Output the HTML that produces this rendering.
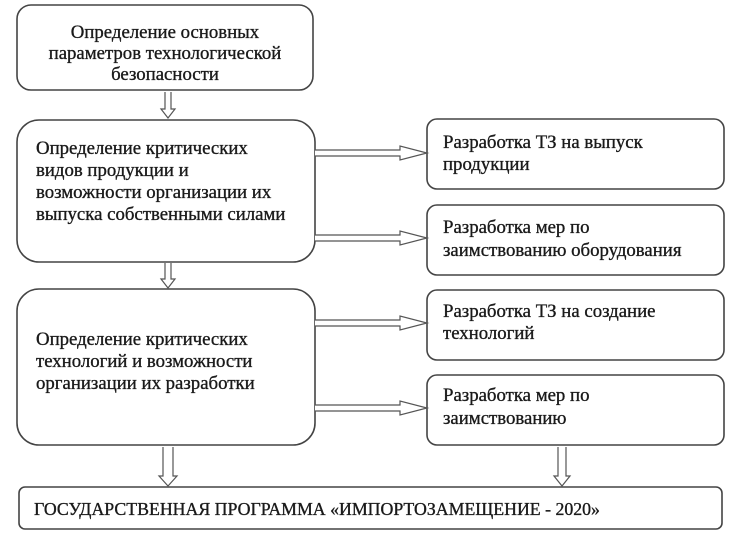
<!DOCTYPE html>
<html><head><meta charset="utf-8"><style>
html,body{margin:0;padding:0;background:#fff;}
svg text{font-family:"Liberation Serif","Noto Serif CJK SC",serif;font-size:18.8px;fill:#1a1a1a;stroke:#1a1a1a;stroke-width:0.35;}
</style></head><body>
<svg width="737" height="538" viewBox="0 0 737 538" xmlns="http://www.w3.org/2000/svg">
<g fill="#fff" stroke="#444" stroke-width="1.6">
<rect x="17" y="5" width="296" height="85" rx="14"/>
<rect x="17" y="120" width="298" height="142" rx="22"/>
<rect x="17" y="289" width="298" height="156" rx="22"/>
<rect x="427" y="119" width="297" height="70" rx="10"/>
<rect x="427" y="205" width="297" height="70" rx="10"/>
<rect x="427" y="290" width="297" height="70" rx="10"/>
<rect x="427" y="375" width="297" height="70" rx="10"/>
<rect x="19" y="487" width="703" height="42" rx="6"/>
</g>
<g fill="#fff" stroke="#555" stroke-width="1.2">
<path d="M165,92 V109 H161 L168,118 L175,109 H171 V92"/>
<path d="M165,263 V279 H161 L168,288 L175,279 H171 V263"/>
<path d="M163,447 V476 H159 L168,486 L177,476 H173 V447"/>
<path d="M558,447 V476 H554 L562,486 L570,476 H566 V447"/>
<path d="M315,150 H400 V146 L427,153 L400,160 V156 H315"/>
<path d="M315,235 H400 V231 L427,238 L400,245 V241 H315"/>
<path d="M315,320 H400 V316 L427,323 L400,330 V326 H315"/>
<path d="M315,405 H400 V401 L427,408 L400,415 V411 H315"/>
</g>
<g text-anchor="middle" style="font-size:18.3px">
<text x="165" y="38">Определение основных</text>
<text x="165" y="59">параметров технологической</text>
<text x="165" y="80">безопасности</text>
</g>
<text x="36" y="154">Определение критических</text>
<text x="36" y="176">видов продукции и</text>
<text x="36" y="198">возможности организации их</text>
<text x="36" y="220">выпуска собственными силами</text>
<text x="36" y="345">Определение критических</text>
<text x="36" y="367">технологий и возможности</text>
<text x="36" y="389">организации их разработки</text>
<text x="443" y="148">Разработка ТЗ на выпуск</text>
<text x="443" y="170">продукции</text>
<text x="443" y="233">Разработка мер по</text>
<text x="443" y="256">заимствованию оборудования</text>
<text x="443" y="317">Разработка ТЗ на создание</text>
<text x="443" y="339">технологий</text>
<text x="443" y="401">Разработка мер по</text>
<text x="443" y="424">заимствованию</text>
<text x="34" y="515" style="font-size:17.8px">ГОСУДАРСТВЕННАЯ ПРОГРАММА «ИМПОРТОЗАМЕЩЕНИЕ - 2020»</text>
</svg>
</body></html>
